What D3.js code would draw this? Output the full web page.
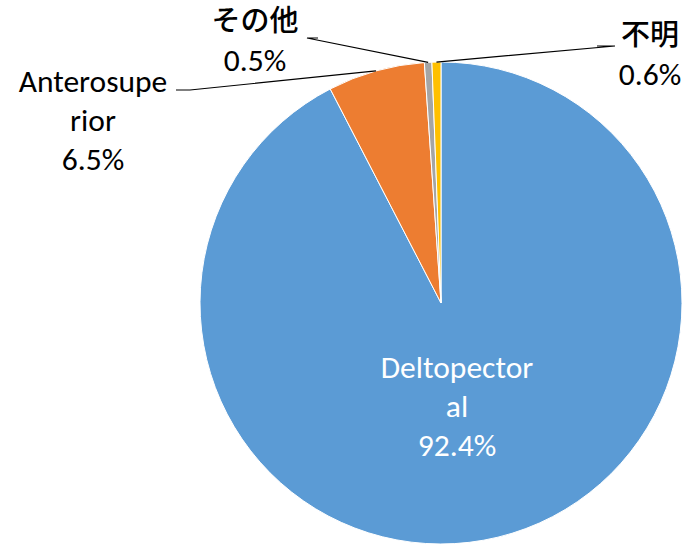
<!DOCTYPE html>
<html>
<head>
<meta charset="utf-8">
<script src="https://cdn.jsdelivr.net/npm/d3@7"></script>
<style>
  body { margin: 0; background: #fff; }
  text { font-family: "Carlito", "Lato", "Noto Sans", sans-serif; }
  .jp { font-family: "Noto Sans CJK JP", sans-serif; font-weight: 500; }
</style>
</head>
<body>
<svg></svg>
<script>
const categories = ["Deltopectoral", "Anterosuperior", "その他", "不明"]
const values = [92.4, 6.5, 0.5, 0.6]
const colors = ["#5b9bd5", "#ed7d31", "#a5a5a5", "#ffc000"]
// label lines as they wrap in the reference
const labelLines = [["Deltopector", "al"], ["Anterosupe", "rior"], ["その他"], ["不明"]]

const svg = d3.select("svg")
  .attr("width", 695)
  .attr("height", 545)

const cx = 441, cy = 303, radius = 241

const pie = d3.pie()
  .sort(null)
  .value((d) => d)

const arc = d3.arc()
  .innerRadius(0)
  .outerRadius(radius)

const arcs = pie(values)

const g = svg.append("g")
  .attr("transform", `translate(${cx}, ${cy})`)

g.selectAll("path")
  .data(arcs)
  .enter()
  .append("path")
  .attr("d", arc)
  .attr("fill", (d, i) => colors[i])
  .attr("stroke", "#fff")
  .attr("stroke-width", 1)

// label placement (layout only), relative to the svg
const labelPos = [
  { x: 457, y: 378, color: "#fff" },
  { x: 93, y: 92, color: "#000", elbow: [176, 190, 90] },
  { x: 255, y: 31, color: "#000", elbow: [318, 307, 38] },
  { x: 650, y: 45, color: "#000", elbow: [597, 615, 46] }
]

const fmt = (v) => v.toFixed(1) + "%"

arcs.forEach((a, i) => {
  const p = labelPos[i]
  const lines = labelLines[i].concat([fmt(values[i])])
  const isJp = i >= 2
  const step = isJp ? 40 : 39
  lines.forEach((t, j) => {
    svg.append("text")
      .attr("class", isJp && j === 0 ? "jp" : null)
      .attr("x", p.x)
      .attr("y", p.y + j * step)
      .attr("text-anchor", "middle")
      .attr("font-size", isJp && j === 0 ? 29 : 31.5)
      .attr("fill", p.color)
      .text(t)
  })
  if (p.elbow) {
    const mid = (a.startAngle + a.endAngle) / 2
    const ex = cx + radius * Math.sin(mid)
    const ey = cy - radius * Math.cos(mid)
    const [x0, x1, y] = p.elbow
    svg.append("polyline")
      .attr("points", `${x0},${y} ${x1},${y} ${ex},${ey}`)
      .attr("fill", "none")
      .attr("stroke", "#000")
      .attr("stroke-width", 1.2)
  }
})
</script>
</body>
</html>
